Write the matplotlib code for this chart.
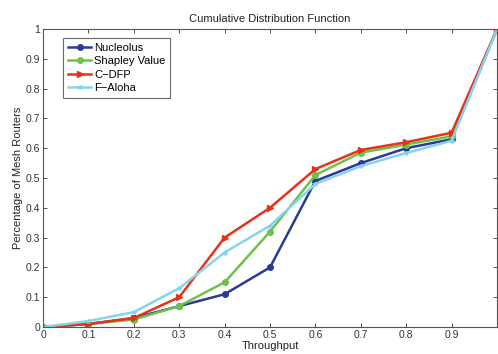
import matplotlib
matplotlib.use("Agg")
import matplotlib.pyplot as plt

x = [0, 0.1, 0.2, 0.3, 0.4, 0.5, 0.6, 0.7, 0.8, 0.9, 1.0]
nucleolus = [0, 0.01, 0.03, 0.07, 0.11, 0.20, 0.49, 0.55, 0.60, 0.63, 1.0]
shapley = [0, 0.01, 0.025, 0.07, 0.15, 0.32, 0.51, 0.585, 0.612, 0.64, 1.0]
cdfp = [0, 0.01, 0.03, 0.10, 0.30, 0.40, 0.53, 0.594, 0.62, 0.652, 1.0]
faloha = [0, 0.02, 0.05, 0.13, 0.25, 0.34, 0.48, 0.54, 0.584, 0.625, 1.0]
labels = ["Nucleolus", "Shapley Value", "C\u2212DFP", "F\u2212Aloha"]

plt.rcParams['font.family'] = ['Liberation Sans', 'DejaVu Sans']
fig = plt.figure(figsize=(4.98, 3.54), dpi=100)
ax = fig.add_axes([43/498, 1-327/354, 454/498, (327-29)/354])

ax.plot(x, nucleolus, color='#2b3a96', lw=1.8, marker='o', ms=4, label=labels[0])
ax.plot(x, shapley, color='#6cc24a', lw=1.8, marker='o', ms=4, label=labels[1])
ax.plot(x, cdfp, color='#e8311a', lw=1.8, marker='>', ms=5, label=labels[2])
ax.plot(x, faloha, color='#86d4ea', lw=1.8, marker='*', ms=3, label=labels[3])

ax.set_xlim(0, 1)
ax.set_ylim(0, 1)
ax.set_xticks([0, 0.1, 0.2, 0.3, 0.4, 0.5, 0.6, 0.7, 0.8, 0.9, 1.0])
ax.set_xticklabels(['0', '0.1', '0.2', '0.3', '0.4', '0.5', '0.6', '0.7', '0.8', '0.9', ''])
ax.set_yticks([0, 0.1, 0.2, 0.3, 0.4, 0.5, 0.6, 0.7, 0.8, 0.9, 1.0])
ax.set_yticklabels(['0', '0.1', '0.2', '0.3', '0.4', '0.5', '0.6', '0.7', '0.8', '0.9', '1'])
ax.tick_params(direction='in', top=True, right=True, labelsize=7.5, length=3, width=0.6, colors='#333333', pad=2)
for s in ax.spines.values():
    s.set_color('#555555')
    s.set_linewidth(0.8)

ax.set_title("Cumulative Distribution Function", fontsize=8, pad=5, color='#222222')
ax.set_xlabel("Throughput", fontsize=8, labelpad=1, color='#222222')
ax.set_ylabel("Percentage of Mesh Routers", fontsize=8, labelpad=2, color='#222222')

leg = ax.legend(loc='upper left', bbox_to_anchor=(0.045, 0.97), fontsize=8, frameon=True,
                fancybox=False, edgecolor='#444444', handlelength=2.0, handletextpad=0.3,
                borderpad=0.45, labelspacing=0.3, borderaxespad=0)
leg.get_frame().set_linewidth(0.8)

fig.savefig("out.png", dpi=100)
